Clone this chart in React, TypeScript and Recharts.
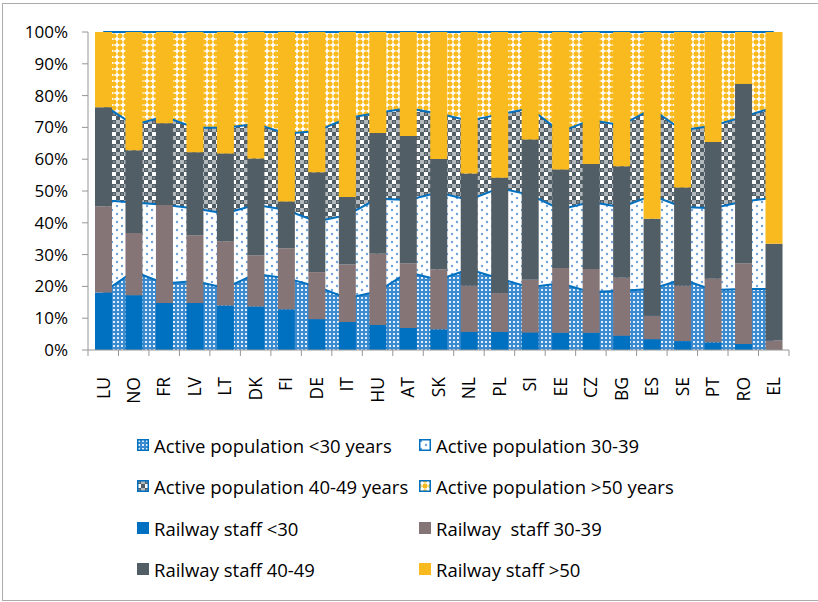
import { ComposedChart, Area, Bar, XAxis, YAxis } from 'recharts'

const COUNTRIES = ['LU', 'NO', 'FR', 'LV', 'LT', 'DK', 'FI', 'DE', 'IT', 'HU', 'AT', 'SK', 'NL', 'PL', 'SI', 'EE', 'CZ', 'BG', 'ES', 'SE', 'PT', 'RO', 'EL']

// active population shares (%)
const POP_U30 = [18.1, 24.7, 20.9, 21.7, 19.5, 23.9, 22.6, 20.0, 16.3, 18.4, 24.4, 22.1, 25.4, 22.5, 19.7, 21.0, 18.2, 18.6, 19.2, 22.2, 18.9, 19.2, 19.2]
const POP_30_39 = [29.0, 21.7, 24.8, 22.8, 23.4, 21.8, 21.4, 20.4, 26.1, 29.2, 22.8, 27.4, 21.8, 28.4, 29.1, 23.2, 28.3, 26.3, 29.4, 22.8, 25.7, 27.5, 28.7]
const POP_40_49 = [30.0, 24.4, 27.7, 25.4, 27.0, 25.4, 24.1, 28.4, 30.5, 27.0, 28.8, 24.9, 24.9, 23.2, 27.2, 24.4, 25.8, 25.8, 27.2, 24.1, 25.9, 26.6, 28.4]
const POP_50 = [22.9, 29.2, 26.6, 30.1, 30.1, 28.9, 31.9, 31.2, 27.1, 25.4, 24.0, 25.6, 27.9, 25.9, 24.0, 31.4, 27.7, 29.3, 24.2, 30.9, 29.5, 26.7, 23.7]

// railway staff shares (%)
const STAFF_U30 = [18.1, 17.2, 14.8, 14.8, 14.0, 13.7, 12.8, 9.7, 8.8, 7.9, 6.9, 6.5, 5.7, 5.7, 5.5, 5.4, 5.4, 4.5, 3.4, 2.8, 2.4, 1.9, 0]
const STAFF_30_39 = [27.1, 19.6, 30.8, 21.3, 20.2, 16.1, 19.2, 14.8, 18.1, 22.4, 20.4, 18.9, 14.5, 12.2, 16.6, 20.4, 20.1, 18.2, 7.4, 17.4, 20.0, 25.4, 3.0]
const STAFF_40_49 = [31.1, 26.0, 25.7, 26.1, 27.6, 30.4, 14.7, 31.4, 21.2, 37.9, 40.0, 34.7, 35.3, 36.3, 44.1, 31.0, 33.0, 35.1, 30.5, 30.9, 43.0, 56.4, 30.4]
const STAFF_50 = [23.7, 37.2, 28.7, 37.8, 38.2, 39.8, 53.3, 44.1, 51.9, 31.8, 32.7, 39.9, 44.5, 45.8, 33.8, 43.2, 41.5, 42.2, 58.7, 48.9, 34.6, 16.3, 66.6]

const Y_TICKS = [0, 10, 20, 30, 40, 50, 60, 70, 80, 90, 100]

const data = COUNTRIES.map((country, i) => ({
  country,
  popU30: POP_U30[i],
  pop3039: POP_30_39[i],
  pop4049: POP_40_49[i],
  pop50: POP_50[i],
  staffU30: STAFF_U30[i],
  staff3039: STAFF_30_39[i],
  staff4049: STAFF_40_49[i],
  staff50: STAFF_50[i],
}))

const BLUE = '#0070C0'
const MAUVE = '#867577'
const SLATE = '#525E66'
const GOLD = '#F9BA20'
const AXIS = '#969696'
const FONT = '"Open Sans", sans-serif'

const PLOT_LEFT = 88
const PLOT_RIGHT = 789
const PLOT_BOTTOM = 350
const BAND = (PLOT_RIGHT - PLOT_LEFT) / COUNTRIES.length
const LABEL_TOP = 377

function CountryTick(props: any) {
  const { x, payload, index } = props
  const half = BAND / 2
  return (
    <g>
      {index === 0 && (
        <line x1={x - half} x2={x - half} y1={PLOT_BOTTOM} y2={PLOT_BOTTOM + 6} stroke={AXIS} />
      )}
      <line x1={x + half} x2={x + half} y1={PLOT_BOTTOM} y2={PLOT_BOTTOM + 6} stroke={AXIS} />
      <text
        x={x}
        y={LABEL_TOP}
        dy="0.36em"
        transform={`rotate(-90, ${x}, ${LABEL_TOP})`}
        textAnchor="end"
        fontSize={17.5}
        fontFamily={FONT}
        fill="#000"
      >
        {payload.value}
      </text>
    </g>
  )
}

const LEGEND = [
  { label: 'Active population <30 years', fill: 'url(#pU30)', border: BLUE },
  { label: 'Active population 30-39', fill: 'url(#p3039)', border: BLUE },
  { label: 'Active population 40-49 years', fill: 'url(#p4049)', border: BLUE },
  { label: 'Active population >50 years', fill: 'url(#p50)', border: BLUE },
  { label: 'Railway staff <30', fill: BLUE, border: 'none' },
  { label: 'Railway  staff 30-39', fill: MAUVE, border: 'none' },
  { label: 'Railway staff 40-49', fill: SLATE, border: 'none' },
  { label: 'Railway staff >50', fill: GOLD, border: 'none' },
]
const LEGEND_ROWS = [445, 486, 528, 569]
const LEGEND_COLS = [137, 419]

export default function App() {
  return (
    <div
      style={{
        position: 'fixed',
        left: 0,
        top: 0,
        width: 818,
        height: 602,
        background: '#fff',
        overflow: 'hidden',
        fontFamily: FONT,
      }}
    >
      <div
        style={{
          position: 'absolute',
          left: 2,
          top: 3,
          width: 840,
          height: 598,
          border: '1.5px solid #ABABAB',
          boxSizing: 'border-box',
        }}
      />
      <div style={{ position: 'absolute', left: 0, top: 0 }}>
        <ComposedChart
          width={818}
          height={420}
          data={data}
          margin={{ top: 32, right: 29, bottom: 0, left: 0 }}
        >
          <defs>
            <pattern id="pU30" width="4" height="4" patternUnits="userSpaceOnUse">
              <rect width="4" height="4" fill="#3A8BD0" />
              <rect x="1" y="1" width="2" height="2" fill="#FFFFFF" opacity="0.85" />
            </pattern>
            <pattern id="p3039" width="10" height="8" patternUnits="userSpaceOnUse">
              <rect width="10" height="8" fill="#FFFFFF" />
              <circle cx="2" cy="2" r="1.2" fill="#6FA3DA" />
              <circle cx="7" cy="6" r="1.2" fill="#6FA3DA" />
            </pattern>
            <pattern id="p4049" width="8" height="8" patternUnits="userSpaceOnUse">
              <rect width="8" height="8" fill="#FFFFFF" />
              <rect x="0" y="0" width="4" height="4" fill={SLATE} />
              <rect x="4" y="4" width="4" height="4" fill={SLATE} />
              <rect x="4" y="0" width="4" height="4" fill="#B4B9BD" />
              <rect x="1.5" y="1.5" width="1" height="1" fill="#FFFFFF" />
            </pattern>
            <pattern id="p50" width="6" height="6" patternUnits="userSpaceOnUse">
              <rect width="6" height="6" fill={GOLD} />
              <rect x="2" y="0.5" width="2" height="5" fill="#FFFFFF" opacity="0.9" />
              <rect x="0.5" y="2" width="5" height="2" fill="#FFFFFF" opacity="0.9" />
            </pattern>
          </defs>
          <XAxis
            dataKey="country"
            height={70}
            interval={0}
            axisLine={{ stroke: AXIS }}
            tickLine={false}
            tick={<CountryTick />}
          />
          <YAxis
            width={88}
            domain={[0, 100]}
            ticks={Y_TICKS}
            tickFormatter={(v) => `${v}%`}
            axisLine={{ stroke: AXIS }}
            tickLine={{ stroke: AXIS }}
            tickSize={6}
            tickMargin={14}
            tick={{ fill: '#000', fontSize: 17, fontFamily: FONT }}
          />
          <YAxis
            yAxisId="r"
            orientation="right"
            mirror
            width={0}
            domain={[0, 100]}
            ticks={Y_TICKS}
            tick={false}
            axisLine={{ stroke: AXIS }}
            tickLine={{ stroke: AXIS }}
            tickSize={6}
          />
          <Area type="linear" dataKey="popU30" stackId="pop" fill="url(#pU30)" fillOpacity={1} stroke="none" isAnimationActive={false} />
          <Area type="linear" dataKey="pop3039" stackId="pop" fill="url(#p3039)" fillOpacity={1} stroke="none" isAnimationActive={false} />
          <Area type="linear" dataKey="pop4049" stackId="pop" fill="url(#p4049)" fillOpacity={1} stroke="none" isAnimationActive={false} />
          <Area type="linear" dataKey="pop50" stackId="pop" fill="url(#p50)" fillOpacity={1} stroke="none" isAnimationActive={false} />
          <Area type="linear" dataKey="popU30" stackId="popLine" fill="none" stroke={BLUE} strokeWidth={2} isAnimationActive={false} />
          <Area type="linear" dataKey="pop3039" stackId="popLine" fill="none" stroke={BLUE} strokeWidth={2} isAnimationActive={false} />
          <Area type="linear" dataKey="pop4049" stackId="popLine" fill="none" stroke={BLUE} strokeWidth={2} isAnimationActive={false} />
          <Area type="linear" dataKey="pop50" stackId="popLine" fill="none" stroke={BLUE} strokeWidth={2} isAnimationActive={false} />
          <Bar dataKey="staffU30" stackId="staff" barSize={17} fill={BLUE} isAnimationActive={false} />
          <Bar dataKey="staff3039" stackId="staff" barSize={17} fill={MAUVE} isAnimationActive={false} />
          <Bar dataKey="staff4049" stackId="staff" barSize={17} fill={SLATE} isAnimationActive={false} />
          <Bar dataKey="staff50" stackId="staff" barSize={17} fill={GOLD} isAnimationActive={false} />
        </ComposedChart>
      </div>
      {LEGEND.map((item, i) => {
        const row = LEGEND_ROWS[Math.floor(i / 2)]
        const col = LEGEND_COLS[i % 2]
        return (
          <div
            key={item.label}
            style={{
              position: 'absolute',
              left: col,
              top: row - 12,
              height: 24,
              display: 'flex',
              alignItems: 'center',
              whiteSpace: 'pre',
              fontSize: 18.5,
              color: '#000',
            }}
          >
            <svg width={12} height={12} style={{ marginRight: 5, flex: 'none' }}>
              <rect
                x={item.border === 'none' ? 0 : 0.75}
                y={item.border === 'none' ? 0 : 0.75}
                width={item.border === 'none' ? 12 : 10.5}
                height={item.border === 'none' ? 12 : 10.5}
                fill={item.fill}
                stroke={item.border}
                strokeWidth={1.5}
              />
            </svg>
            <span>{item.label}</span>
          </div>
        )
      })}
    </div>
  )
}
